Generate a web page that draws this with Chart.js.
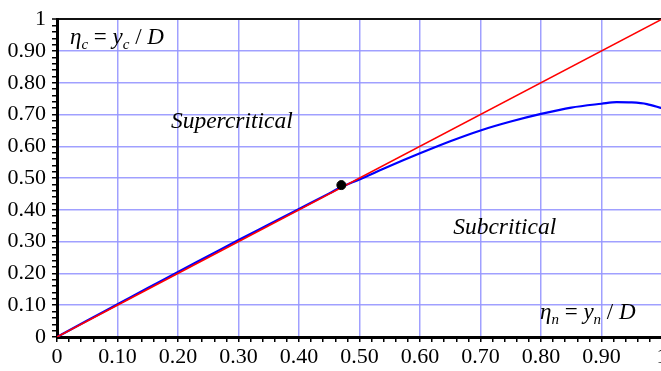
<!DOCTYPE html>
<html>
<head>
<meta charset="utf-8">
<script src="https://cdn.jsdelivr.net/npm/chart.js@4.4.1/dist/chart.umd.min.js"></script>
<style>
  html, body { margin: 0; padding: 0; background: #fff; }
  #wrap { width: 661px; height: 371px; overflow: hidden; position: relative; }
  #chart { position: absolute; left: 0; top: 0; }
</style>
</head>
<body>
<div id="wrap"><canvas id="chart" width="680" height="371"></canvas></div>
<script>
// eta_n values (x) and the critical depth curve eta_c (y)
const etaN = [0, 0.05, 0.10, 0.15, 0.20, 0.25, 0.30, 0.35, 0.40, 0.45, 0.47, 0.50, 0.55, 0.60, 0.65, 0.70, 0.75, 0.80, 0.85, 0.90, 0.925, 0.95, 0.975, 1.0];
const etaC = [0, 0.052, 0.103, 0.154, 0.205, 0.255, 0.305, 0.354, 0.403, 0.452, 0.472, 0.496, 0.538, 0.578, 0.616, 0.650, 0.678, 0.702, 0.722, 0.734, 0.739, 0.738, 0.733, 0.720];
// line eta_c = eta_n
const diagX = [0, 1];
const diagY = [0, 1];
// intersection point
const pointX = [0.470];
const pointY = [0.478];

// text labels placed in data coordinates
const regionLabels = [
    { text: 'Supercritical', x: 0.289, y: 0.676 },
    { text: 'Subcritical', x: 0.740, y: 0.344 }
];

const serif = "'Liberation Serif', 'DejaVu Serif', serif";
const gridBlue = 'rgba(150, 150, 255, 0.9)';

function isMajor(v) {
    return Math.round(v * 100) % 10 === 0;
}

function tickLabel(v) {
    if (!isMajor(v)) return '';
    if (Math.abs(v) < 1e-9) return '0';
    if (Math.abs(v - 1) < 1e-9) return '1';
    return v.toFixed(2);
}

function toPoints(xs, ys) {
    return xs.map((x, i) => ({ x: x, y: ys[i] }));
}

// draw eta = y / D labels with subscripts
function drawEtaLabel(ctx, x, y, sub) {
    const big = 'italic 23px ' + serif;
    const up = '23px ' + serif;
    const small = 'italic 15px ' + serif;
    const parts = [
        [big, '\u03B7', 0], [small, sub, 5], [up, ' = ', 0],
        [big, 'y', 0], [small, sub, 5], [up, ' / ', 0], [big, 'D', 0]
    ];
    ctx.textBaseline = 'alphabetic';
    ctx.textAlign = 'left';
    let cx = x;
    parts.forEach(p => {
        ctx.font = p[0];
        ctx.fillText(p[1], cx, y + p[2]);
        cx += ctx.measureText(p[1]).width;
    });
}

const textPlugin = {
    id: 'textLabels',
    afterDatasetsDraw(chart) {
        const ctx = chart.ctx;
        const xs = chart.scales.x, ys = chart.scales.y;
        ctx.save();
        ctx.fillStyle = '#000';
        ctx.font = 'italic 23.5px ' + serif;
        ctx.textAlign = 'center';
        ctx.textBaseline = 'middle';
        regionLabels.forEach(l => {
            ctx.fillText(l.text, xs.getPixelForValue(l.x), ys.getPixelForValue(l.y));
        });
        drawEtaLabel(ctx, 70, 44, 'c');
        drawEtaLabel(ctx, 540, 319, 'n');
        ctx.restore();
    }
};

function axisOptions(pos) {
    return {
        type: 'linear',
        position: pos,
        min: 0,
        max: 1,
        border: { display: true, color: '#000', width: 3 },
        grid: {
            color: c => {
                if (!c.tick) return 'transparent';
                if (Math.abs(c.tick.value - 1) < 1e-9) return pos === 'left' ? '#111' : gridBlue;
                if (Math.abs(c.tick.value) < 1e-9) return 'transparent';
                return isMajor(c.tick.value) ? gridBlue : 'transparent';
            },
            lineWidth: c => (c.tick && Math.abs(c.tick.value - 1) < 1e-9 && pos === 'left') ? 2 : 1.5,
            drawTicks: true,
            tickLength: 5,
            tickColor: '#000',
            tickWidth: 1.5
        },
        ticks: {
            stepSize: 0.02,
            autoSkip: false,
            maxTicksLimit: 100,
            maxRotation: 0,
            padding: pos === 'left' ? 6 : 2,
            color: '#000',
            font: { family: serif, size: 22 },
            callback: v => tickLabel(v)
        },
        afterFit: s => {
            if (pos === 'left') s.width = 57;
            else s.height = 34;
        }
    };
}

new Chart(document.getElementById('chart').getContext('2d'), {
    type: 'scatter',
    data: {
        datasets: [{
            label: 'point',
            data: toPoints(pointX, pointY),
            backgroundColor: '#000',
            borderColor: '#000',
            pointRadius: 4.5,
            showLine: false
        }, {
            label: 'diagonal',
            data: toPoints(diagX, diagY),
            borderColor: '#ff0000',
            borderWidth: 1.6,
            pointRadius: 0,
            showLine: true
        }, {
            label: 'critical',
            data: toPoints(etaN, etaC),
            borderColor: '#0000ff',
            borderWidth: 2.2,
            pointRadius: 0,
            showLine: true,
            cubicInterpolationMode: 'monotone'
        }]
    },
    options: {
        responsive: false,
        animation: false,
        layout: { padding: { top: 14, right: 18, left: 0, bottom: 0 } },
        plugins: {
            legend: { display: false },
            tooltip: { enabled: false }
        },
        scales: {
            x: axisOptions('bottom'),
            y: axisOptions('left')
        }
    },
    plugins: [textPlugin]
});
</script>
</body>
</html>
